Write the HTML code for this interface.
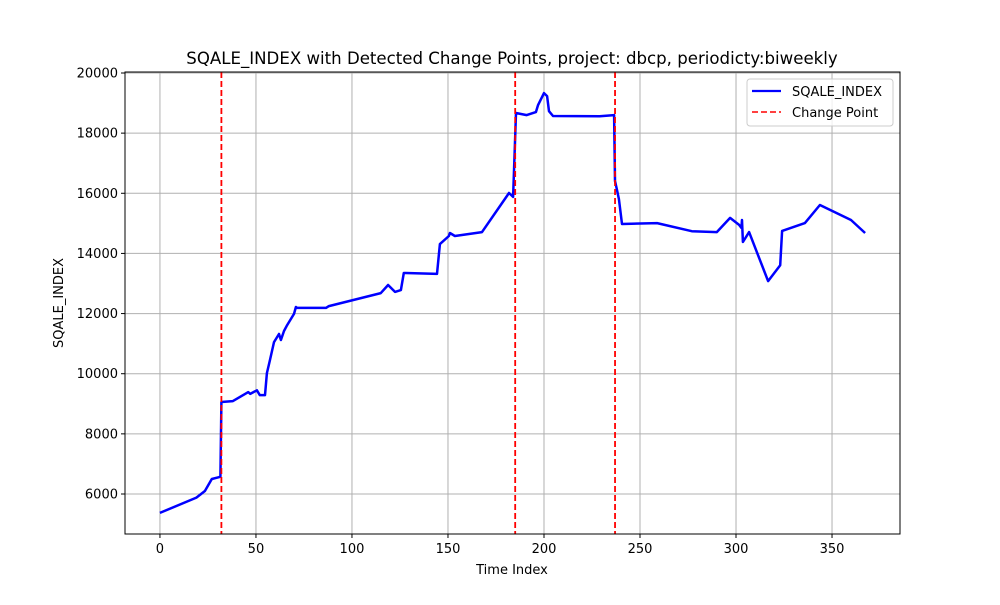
<!DOCTYPE html>
<html><head><meta charset="utf-8"><style>
body{margin:0;background:#fff;}
svg{font-family:"DejaVu Sans","Liberation Sans",sans-serif;}
</style></head><body>
<svg id="chart" width="1000" height="600" xmlns="http://www.w3.org/2000/svg">
<rect x="0" y="0" width="1000" height="600" fill="#fff"/>
<text x="512" y="64" font-size="16.6" text-anchor="middle">SQALE_INDEX with Detected Change Points, project: dbcp, periodicty:biweekly</text>
<g id="grid"></g>
<g id="marks"></g>
<rect x="125" y="72" width="775" height="462" fill="none" stroke="#000" stroke-width="1"/>
<g id="ticks"></g>
<text x="512" y="574" font-size="13" text-anchor="middle">Time Index</text>
<text transform="translate(63,303) rotate(-90)" font-size="13" text-anchor="middle">SQALE_INDEX</text>
<g>
<rect x="747" y="79" width="146" height="47" rx="3" fill="#fff" fill-opacity="0.8" stroke="#ccc"/>
<line x1="752" y1="91" x2="781" y2="91" stroke="#00f" stroke-width="2.2"/>
<text x="792" y="96" font-size="13">SQALE_INDEX</text>
<line x1="752" y1="112" x2="781" y2="112" stroke="#f00" stroke-width="1.5" stroke-dasharray="6,3"/>
<text x="792" y="117" font-size="13">Change Point</text>
</g>
</svg>
<script>
const times=[0,19,23.4,27,30.7,31.5,32,38,46,47,50.5,52,54.7,55.7,56.3,57.3,59.4,62,63,64.6,66,69.8,70.8,71.4,86.5,88,115,118.8,122.4,125.5,127,128,144.3,145.8,150.5,151,153.6,167.7,181.8,183.9,185.4,191,195.8,196.9,200,201.6,202.6,204.7,229,236.5,237,238,239,240.6,258.9,277,290,296.9,301.6,302.8,303.1,303.6,306.8,316.7,323,324,335.9,343.7,359.9,367.2];
const values=[5370,5880,6100,6500,6560,6580,9060,9090,9390,9330,9450,9290,9290,10020,10190,10460,11050,11320,11120,11420,11590,11990,12220,12190,12190,12250,12680,12950,12720,12780,13350,13350,13320,14310,14580,14680,14580,14710,16010,15880,18670,18600,18700,18930,19330,19230,18730,18570,18560,18600,16410,16110,15810,14980,15010,14740,14710,15180,14950,14850,15110,14380,14710,13080,13610,14750,15010,15610,15110,14680];
const changePoints=[32,185,237];
const xTicks=[0,50,100,150,200,250,300,350];
const yTicks=[6000,8000,10000,12000,14000,16000,18000,20000];

const NS="http://www.w3.org/2000/svg";
const X0=125,X1=900,Y0=534,Y1=72,TMIN=-18.2,TMAX=385.4,VMIN=4670,VMAX=20033;
function xs(t){return X0+(t-TMIN)/(TMAX-TMIN)*(X1-X0);}
function ys(v){return Y0-(v-VMIN)/(VMAX-VMIN)*(Y0-Y1);}
function mk(tag,attrs,parent){const e=document.createElementNS(NS,tag);for(const k in attrs)e.setAttribute(k,attrs[k]);parent.appendChild(e);return e;}
const grid=document.getElementById('grid'),ticks=document.getElementById('ticks'),marks=document.getElementById('marks');
xTicks.forEach(t=>{
  const x=xs(t);
  const g=mk('line',{x1:x,x2:x,y1:Y1,y2:Y0,stroke:'#b0b0b0','stroke-width':1},grid);
  
  
  mk('line',{x1:x,x2:x,y1:Y0,y2:Y0+4,stroke:'#000'},ticks);
  const l=mk('text',{x:x,y:Y0+19,'font-size':13,'text-anchor':'middle'},ticks);
  l.textContent=t;
  
  
});
yTicks.forEach(v=>{
  const y=ys(v);
  const g=mk('line',{x1:X0,x2:X1,y1:y,y2:y,stroke:'#b0b0b0','stroke-width':1},grid);
  
  
  mk('line',{x1:X0-4,x2:X0,y1:y,y2:y,stroke:'#000'},ticks);
  const l=mk('text',{x:X0-7,y:y+4.5,'font-size':13,'text-anchor':'end'},ticks);
  l.textContent=v;
  
  
});
const pts=times.map((t,i)=>xs(t).toFixed(1)+','+ys(values[i]).toFixed(1)).join(' ');
const line=mk('polyline',{points:pts,fill:'none',stroke:'#00f','stroke-width':2.5,'stroke-linejoin':'round'},marks);


changePoints.forEach(c=>{
  const x=xs(c);
  const l=mk('line',{x1:x,x2:x,y1:Y1,y2:Y0,stroke:'#f00','stroke-width':1.8,'stroke-dasharray':'6,3'},marks);
  
  
});
</script>
</body></html>
